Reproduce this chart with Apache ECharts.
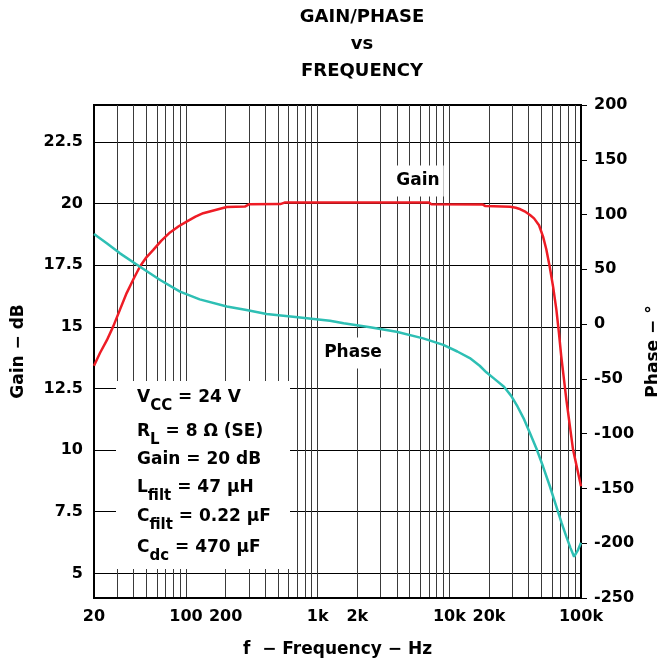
<!DOCTYPE html>
<html>
<head>
<meta charset="utf-8">
<script src="https://cdn.jsdelivr.net/npm/echarts@6/dist/echarts.min.js"></script>
<style>
html, body { margin: 0; padding: 0; background: #fff; }
#chart { width: 657px; height: 665px; }
</style>
</head>
<body>
<div id="chart"></div>
<script>
// gain curve (dB) vs frequency (Hz)
var gainFreq = [20, 22.2, 25, 28, 31.5, 35.4, 40, 44.7, 50, 56.4, 65, 75.6, 88, 101, 118, 135, 170, 204, 280, 300, 520, 560, 7000, 7300, 18000, 18800, 29000, 32000, 34700, 38000, 41000, 44000, 48000, 51500, 54500, 57800, 61500, 65000, 68000, 70800, 77400, 87000, 100000];
var gainVals = [13.42, 13.94, 14.45, 15.02, 15.7, 16.37, 16.95, 17.45, 17.82, 18.12, 18.5, 18.83, 19.08, 19.27, 19.47, 19.61, 19.75, 19.86, 19.88, 19.97, 19.98, 20.04, 20.04, 19.97, 19.96, 19.9, 19.87, 19.83, 19.77, 19.66, 19.54, 19.4, 19.12, 18.66, 18.15, 17.45, 16.6, 15.7, 14.75, 13.8, 12.05, 10.02, 8.53];

// phase curve (degrees) vs frequency (Hz)
var phaseFreq = [20, 25, 31.5, 44.7, 63.6, 90, 127, 204, 288, 409, 650, 1240, 1575, 2500, 3970, 6330, 9000, 11500, 14300, 17000, 19100, 22000, 26000, 29500, 33000, 37000, 41000, 46000, 51500, 58000, 65000, 71000, 77400, 83000, 88600, 95000, 100000];
var phaseVals = [82.2, 73.8, 64.6, 52.4, 40.3, 29.6, 22.6, 16, 12.9, 9.3, 6.8, 3.1, 0.7, -2.9, -6.9, -13, -19, -25, -31, -38, -44, -50, -57.1, -65.5, -75.4, -87, -99.7, -114, -130, -148, -166.6, -181, -194, -204, -212.3, -206, -199.5];

// axis ticks
var freqGrid = [30, 40, 50, 60, 70, 80, 90, 100, 200, 300, 400, 500, 600, 700, 800, 900, 1000,
    2000, 3000, 4000, 5000, 6000, 7000, 8000, 9000, 10000,
    20000, 30000, 40000, 50000, 60000, 70000, 80000, 90000];
var freqLabels = [20, 100, 200, 1000, 2000, 10000, 20000, 100000];
var gainTicks = [5, 7.5, 10, 12.5, 15, 17.5, 20, 22.5];

var font = 'DejaVu Sans';

function pairs(xs, ys) {
    var out = [];
    for (var k = 0; k < xs.length; k++) out.push([xs[k], ys[k]]);
    return out;
}

var chart = echarts.init(document.getElementById('chart'));

var main = {fontFamily: font, fontSize: 17, fontWeight: 'bold', color: '#000'};
var sub = {fontFamily: font, fontSize: 15, fontWeight: 'bold', color: '#000', padding: [16, 0, 0, 0]};

function note(txt, y) {
    return {
        type: 'text', z: 11,
        style: {text: txt, x: 137, y: y, verticalAlign: 'middle', rich: {m: main, s: sub}}
    };
}

var option = {
    animation: false,
    backgroundColor: '#fff',
    textStyle: {fontFamily: font},
    grid: {
        left: 94, right: 76, top: 105, bottom: 67,
        show: true, borderColor: '#000', borderWidth: 2,
        containLabel: false, outerBoundsMode: 'none'
    },
    xAxis: {
        type: 'log', logBase: 10, min: 20, max: 100000,
        name: 'f  − Frequency − Hz', nameLocation: 'middle', nameGap: 43,
        nameTextStyle: {fontFamily: font, fontSize: 17, fontWeight: 'bold', color: '#000'},
        axisLine: {show: true, onZero: false, lineStyle: {color: '#000', width: 2}},
        axisTick: {show: false, customValues: freqGrid},
        axisLabel: {
            customValues: freqLabels, margin: 11,
            fontFamily: font, fontSize: 16, fontWeight: 'bold', color: '#000',
            formatter: function (v) { return v >= 1000 ? (v / 1000) + 'k' : String(v); }
        },
        splitLine: {show: true, lineStyle: {color: '#3a3a3a', width: 1}},
        minorTick: {show: false}, minorSplitLine: {show: false}
    },
    yAxis: [
        {
            type: 'value', min: 4, max: 24, position: 'left',
            name: 'Gain − dB', nameLocation: 'middle', nameGap: 67, nameRotate: 90,
            nameTextStyle: {fontFamily: font, fontSize: 17, fontWeight: 'bold', color: '#000'},
            axisLine: {show: true, onZero: false, lineStyle: {color: '#000', width: 2}},
            axisTick: {show: false, customValues: gainTicks},
            axisLabel: {customValues: gainTicks, margin: 11, fontFamily: font, fontSize: 16, fontWeight: 'bold', color: '#000'},
            splitLine: {show: true, lineStyle: {color: '#000', width: 1}}
        },
        {
            type: 'value', min: -250, max: 200, interval: 50, position: 'right',
            name: 'Phase − °', nameLocation: 'middle', nameGap: 60, nameRotate: 90,
            nameTextStyle: {fontFamily: font, fontSize: 17, fontWeight: 'bold', color: '#000'},
            axisLine: {show: true, onZero: false, lineStyle: {color: '#000', width: 2}},
            axisTick: {show: true, inside: false, length: 6, lineStyle: {color: '#000', width: 1}},
            axisLabel: {margin: 13, fontFamily: font, fontSize: 16, fontWeight: 'bold', color: '#000'},
            splitLine: {show: false}
        }
    ],
    series: [
        {
            name: 'Gain', type: 'line', yAxisIndex: 0, showSymbol: false, z: 5,
            lineStyle: {color: '#ee1c25', width: 2.5}, itemStyle: {color: '#ee1c25'},
            data: pairs(gainFreq, gainVals)
        },
        {
            name: 'Phase', type: 'line', yAxisIndex: 1, showSymbol: false, z: 5,
            lineStyle: {color: '#2ebfb4', width: 2.5}, itemStyle: {color: '#2ebfb4'},
            data: pairs(phaseFreq, phaseVals)
        }
    ],
    graphic: [
        {
            type: 'text', z: 11,
            style: {
                text: 'GAIN/PHASE\nvs\nFREQUENCY', x: 362, y: 4, align: 'center', verticalAlign: 'top',
                lineHeight: 27, fontFamily: font, fontSize: 18, fontWeight: 'bold', fill: '#000'
            }
        },
        {
            type: 'rect', z: 10,
            shape: {x: 116, y: 381, width: 174, height: 188},
            style: {fill: '#fff'}
        },
        note('{m|V}{s|CC}{m| = 24 V}', 398),
        note('{m|R}{s|L}{m| = 8 Ω (SE)}', 432),
        note('{m|Gain = 20 dB}', 460),
        note('{m|L}{s|filt}{m| = 47 μH}', 488),
        note('{m|C}{s|filt}{m| = 0.22 μF}', 517),
        note('{m|C}{s|dc}{m| = 470 μF}', 548),
        {
            type: 'text', z: 11,
            style: {
                text: 'Gain', x: 418, y: 181, align: 'center', verticalAlign: 'middle',
                fontFamily: font, fontSize: 17, fontWeight: 'bold', fill: '#000',
                backgroundColor: '#fff', padding: [7, 4, 7, 4]
            }
        },
        {
            type: 'text', z: 11,
            style: {
                text: 'Phase', x: 353, y: 353, align: 'center', verticalAlign: 'middle',
                fontFamily: font, fontSize: 17, fontWeight: 'bold', fill: '#000',
                backgroundColor: '#fff', padding: [7, 4, 7, 4]
            }
        }
    ]
};

chart.setOption(option);
</script>
</body>
</html>
